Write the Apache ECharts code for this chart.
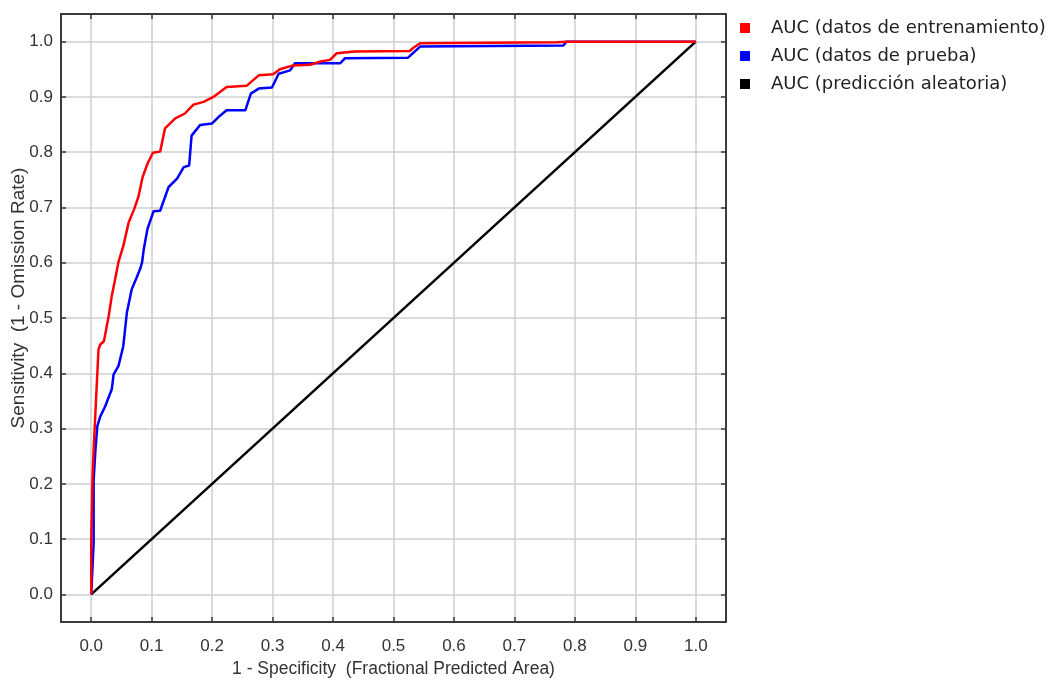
<!DOCTYPE html>
<html>
<head>
<meta charset="utf-8">
<script src="https://cdn.jsdelivr.net/npm/echarts@6/dist/echarts.min.js"></script>
<style>
html,body{margin:0;padding:0;background:#fff;}
#chart{width:1048px;height:682px;}
</style>
</head>
<body>
<div id="chart"></div>
<script>
// ---- data ----
const tickValues = [0, 0.1, 0.2, 0.3, 0.4, 0.5, 0.6, 0.7, 0.8, 0.9, 1.0];

const trainFpr = [0, 0, 0.002, 0.004, 0.008, 0.012, 0.015, 0.021, 0.029, 0.034, 0.040, 0.045, 0.053, 0.062, 0.071, 0.078, 0.085, 0.093, 0.102, 0.114, 0.122, 0.139, 0.155, 0.169, 0.186, 0.202, 0.224, 0.257, 0.277, 0.301, 0.312, 0.334, 0.362, 0.379, 0.395, 0.406, 0.436, 0.527, 0.533, 0.544, 0.770, 0.786, 1.0];
const trainTpr = [0, 0.093, 0.207, 0.262, 0.353, 0.443, 0.452, 0.458, 0.504, 0.540, 0.573, 0.601, 0.630, 0.673, 0.697, 0.719, 0.755, 0.779, 0.799, 0.801, 0.843, 0.861, 0.870, 0.886, 0.891, 0.900, 0.918, 0.920, 0.939, 0.941, 0.950, 0.957, 0.958, 0.964, 0.967, 0.979, 0.982, 0.983, 0.989, 0.997, 0.999, 1.0, 1.0];

const testFpr = [0, 0.004, 0.004, 0.007, 0.010, 0.015, 0.023, 0.034, 0.037, 0.045, 0.053, 0.059, 0.067, 0.075, 0.081, 0.084, 0.087, 0.093, 0.103, 0.114, 0.128, 0.142, 0.153, 0.162, 0.166, 0.180, 0.200, 0.213, 0.224, 0.255, 0.264, 0.277, 0.299, 0.310, 0.329, 0.337, 0.412, 0.420, 0.524, 0.530, 0.544, 0.781, 0.786, 1.0];
const testTpr = [0, 0.093, 0.207, 0.262, 0.304, 0.322, 0.340, 0.371, 0.398, 0.413, 0.449, 0.510, 0.552, 0.573, 0.589, 0.600, 0.625, 0.661, 0.693, 0.694, 0.737, 0.752, 0.773, 0.776, 0.830, 0.849, 0.852, 0.866, 0.876, 0.876, 0.906, 0.915, 0.917, 0.942, 0.948, 0.961, 0.961, 0.970, 0.971, 0.977, 0.991, 0.993, 1.0, 1.0];

const randomFpr = [0, 1];
const randomTpr = [0, 1];

const seriesNames = ['AUC (datos de entrenamiento)', 'AUC (datos de prueba)', 'AUC (predicción aleatoria)'];
const xAxisTitle = '1 - Specificity  (Fractional Predicted Area)';
const yAxisTitle = 'Sensitivity  (1 - Omission Rate)';

const zip = (a, b) => a.map((v, i) => [v, b[i]]);

// ---- chart ----
const chart = echarts.init(document.getElementById('chart'), null, {renderer: 'canvas'});
const frameColor = '#3a3a3a';
const sans = '"Liberation Sans", Arial, sans-serif';
const labelFont = {fontFamily: sans, fontSize: 17, color: '#333'};

function mainAxis(pos, name, gap, nameStyle) {
  return {
    type: 'value', position: pos, min: -0.05, max: 1.05,
    name: name, nameLocation: 'middle', nameGap: gap,
    nameTextStyle: nameStyle,
    axisLine: {show: true, onZero: false, lineStyle: {color: frameColor, width: 2}},
    axisTick: {show: true, inside: true, length: 5, customValues: tickValues, lineStyle: {color: frameColor, width: 1.5}},
    axisLabel: Object.assign({show: true, margin: pos === 'left' ? 8 : 16, customValues: tickValues, formatter: v => v.toFixed(1)}, labelFont),
    splitLine: {show: true, lineStyle: {color: '#cfcfcf', width: 1.5}}
  };
}
function frameAxis(pos) {
  return {
    type: 'value', position: pos, min: -0.05, max: 1.05,
    axisLine: {show: true, onZero: false, lineStyle: {color: frameColor, width: 2}},
    axisTick: {show: true, inside: true, length: 5, customValues: tickValues, lineStyle: {color: frameColor, width: 1.5}},
    axisLabel: {show: false, customValues: tickValues},
    splitLine: {show: false}
  };
}

chart.setOption({
  animation: false,
  backgroundColor: '#fff',
  grid: {left: 61, right: 322, top: 14, bottom: 60, containLabel: false, outerBoundsMode: 'none'},
  legend: {
    orient: 'vertical', left: 740, top: 18, padding: 0,
    icon: 'rect', itemWidth: 10, itemHeight: 10, itemGap: 8,
    data: seriesNames,
    textStyle: {fontFamily: '"DejaVu Sans", sans-serif', fontSize: 18, color: '#222', lineHeight: 20, padding: [0, 0, 0, 16]}
  },
  graphic: [{
    type: 'text', x: 19, y: 298, rotation: Math.PI / 2,
    style: {text: yAxisTitle, font: '19px "Liberation Sans", Arial, sans-serif', fill: '#333', align: 'center', verticalAlign: 'middle'}
  }],
  xAxis: [mainAxis('bottom', xAxisTitle, 38, {fontFamily: sans, fontSize: 17.5, color: '#333'}), frameAxis('top')],
  yAxis: [mainAxis('left', '', 30, {}), frameAxis('right')],
  series: [
    {name: seriesNames[2], type: 'line', data: zip(randomFpr, randomTpr), showSymbol: false, symbol: 'none',
     lineStyle: {color: '#000', width: 2.5}, itemStyle: {color: '#000'}, z: 2},
    {name: seriesNames[1], type: 'line', data: zip(testFpr, testTpr), showSymbol: false, symbol: 'none',
     lineStyle: {color: '#0000ff', width: 2.5}, itemStyle: {color: '#0000ff'}, z: 3},
    {name: seriesNames[0], type: 'line', data: zip(trainFpr, trainTpr), showSymbol: false, symbol: 'none',
     lineStyle: {color: '#ff0000', width: 2.5}, itemStyle: {color: '#ff0000'}, z: 4}
  ]
});
</script>
</body>
</html>
